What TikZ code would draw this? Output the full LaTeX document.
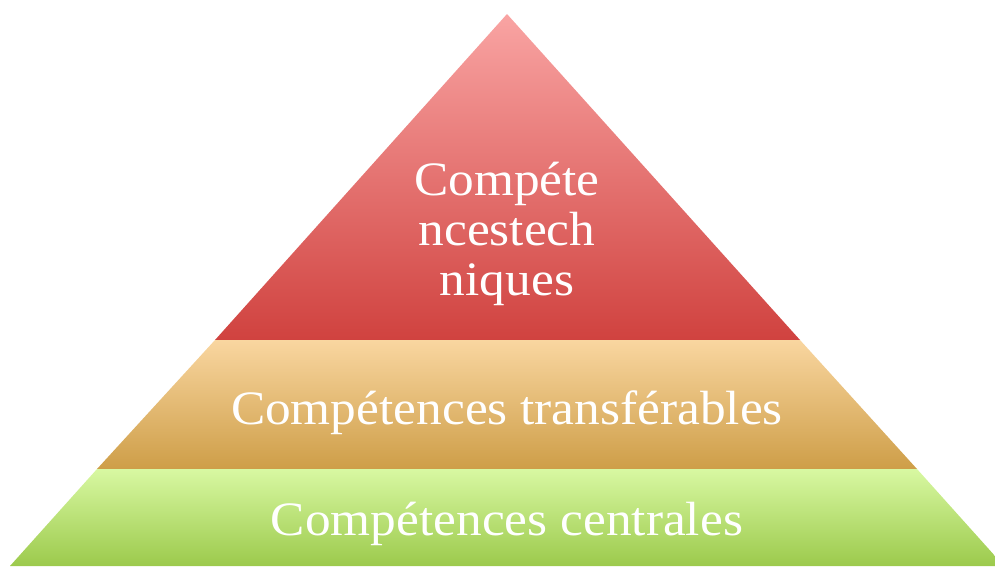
\documentclass[tikz,border=0pt]{standalone}
\usepackage{fontspec}
\setmainfont[FakeStretch=1.07]{Liberation Serif}
\begin{document}
\begin{tikzpicture}[
x=1pt, y=-1pt,
label text/.style={text=white, font=\fontsize{48}{50}\selectfont, align=center, inner sep=0pt},
]
\definecolor{redtop}{HTML}{F9A4A3}
\definecolor{redbot}{HTML}{D0423F}
\definecolor{orangetop}{HTML}{F9D6A0}
\definecolor{orangebot}{HTML}{CE9E48}
\definecolor{greentop}{HTML}{D8F8A2}
\definecolor{greenbot}{HTML}{9CCA4C}
\useasboundingbox (0,0) rectangle (995,566);
% levels of the pyramid
\shade[top color=redtop, bottom color=redbot]
(507,14) -- (800,340) -- (215,340) -- cycle;
\shade[top color=orangetop, bottom color=orangebot]
(215,340) -- (800,340) -- (917,469) -- (97,469) -- cycle;
\shade[top color=greentop, bottom color=greenbot]
(97,469) -- (917,469) -- (1004,566) -- (10,566) -- cycle;
% labels
\node[label text] (tech) at (507,234) {Compéte\\ncestech\\niques};
\node[label text] (transf) at (507,413) {Compétences transférables};
\node[label text] (central) at (507,524) {Compétences centrales};
\end{tikzpicture}
\end{document}
